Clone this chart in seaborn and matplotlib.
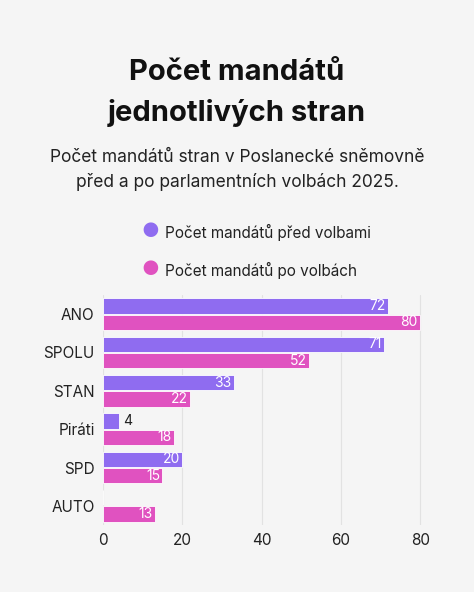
import pandas as pd
import seaborn as sns
import matplotlib.pyplot as plt

strany = ["ANO", "SPOLU", "STAN", "Piráti", "SPD", "AUTO"]
pred = [72, 71, 33, 4, 20, 0]
po = [80, 52, 22, 18, 15, 13]
serie = ["Počet mandátů před volbami", "Počet mandátů po volbách"]
barvy = ["#8f6cf0", "#e052c0"]

df = pd.DataFrame({"strana": strany * 2,
                   "mandaty": pred + po,
                   "serie": [serie[0]] * 6 + [serie[1]] * 6})

sns.set_theme(style="white")
plt.rcParams['font.family'] = ['Inter', 'DejaVu Sans']
bg = "#f5f5f5"
fig = plt.figure(figsize=(4.74, 5.92), dpi=100, facecolor=bg)
W, H = 474, 592
ax = fig.add_axes([103 / W, 1 - 525 / H, 337 / W, 230 / H], facecolor=bg)

sns.barplot(data=df, y="strana", x="mandaty", hue="serie", order=strany,
            palette=barvy, saturation=1, orient="h", ax=ax, width=0.84, gap=0.05,
            edgecolor="white", linewidth=0.6, legend=False)

for cont, vals in zip(ax.containers, [pred, po]):
    for rect, v in zip(cont, vals):
        if v == 0:
            continue
        y = rect.get_y() + rect.get_height() / 2
        if v < 8:
            ax.text(v + 1, y, str(v), va="center", ha="left", fontsize=10, color="#222")
        else:
            ax.text(v - 0.6, y, str(v), va="center", ha="right", fontsize=10, color="white")

ax.set_xlim(0, 85)
ax.set_xticks([0, 20, 40, 60, 80])
ax.grid(axis="x", color="#e2e2e2", linewidth=0.8)
ax.set_axisbelow(True)
for s in ax.spines.values():
    s.set_visible(False)
ax.set_xlabel("")
ax.set_ylabel("")
ax.tick_params(axis="both", labelsize=11, colors="#222", length=0, pad=6)

fig.text(0.5, 1 - 72 / H, "Počet mandátů", ha="center", va="center", fontsize=21, fontweight="bold", color="#111")
fig.text(0.5, 1 - 113 / H, "jednotlivých stran", ha="center", va="center", fontsize=21, fontweight="bold", color="#111")
fig.text(0.5, 1 - 158 / H, "Počet mandátů stran v Poslanecké sněmovně", ha="center", va="center", fontsize=12.5, color="#222")
fig.text(0.5, 1 - 182 / H, "před a po parlamentních volbách 2025.", ha="center", va="center", fontsize=12.5, color="#222")
for i, (lab, c) in enumerate(zip(serie, barvy)):
    yy = 1 - (232 + 38 * i) / H
    fig.text(150 / W, yy, "●", ha="center", va="center", fontsize=14, color=c)
    fig.text(165 / W, yy, lab, ha="left", va="center", fontsize=11, color="#222")

fig.savefig("out.png", dpi=100, facecolor=bg)
